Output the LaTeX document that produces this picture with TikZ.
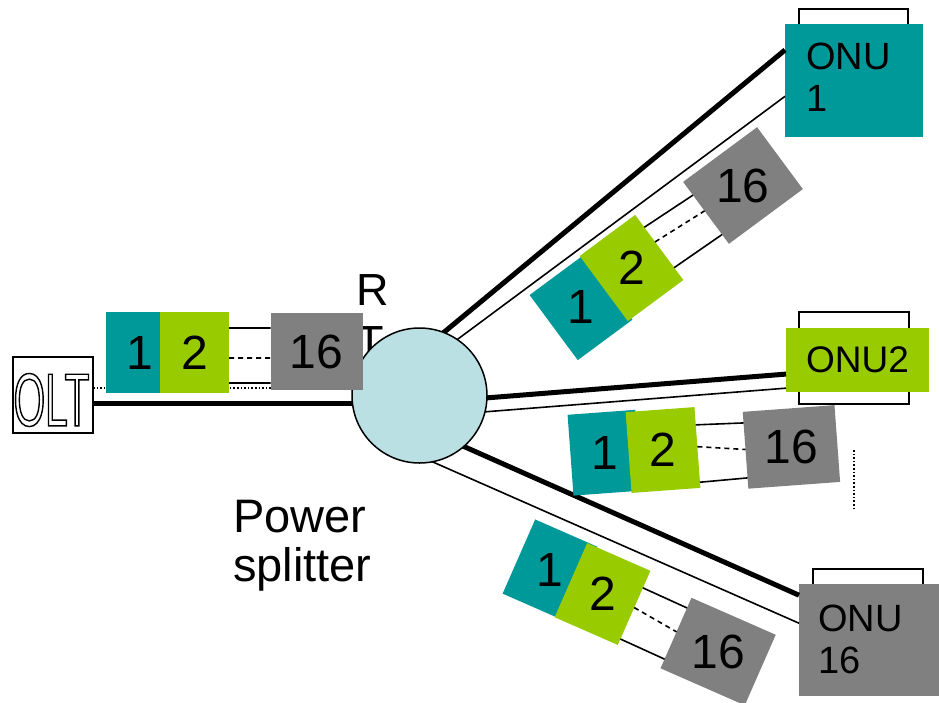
\documentclass[tikz,border=0pt]{standalone}
\usepackage{graphicx}
\usepackage{fontspec}
\setmainfont{Liberation Sans}
\newfontfamily\narrowface[FakeStretch=0.54]{Liberation Sans}
\usetikzlibrary{calc}
\definecolor{tealbox}{HTML}{009999}
\definecolor{limebox}{HTML}{99CC00}
\definecolor{greybox}{HTML}{808080}
\definecolor{splitfill}{HTML}{BBE0E3}
% stroked (hollow) lettering
\newcommand{\hollowtext}[1]{\special{pdf:literal direct 1 Tr 1.4 w}#1\special{pdf:literal direct 0 Tr}}
% a train of packets: #1 prefix, #2 centre of packet 2, #3 angle,
% #4 centre of packet 1, #5 centre of packet 16 (local frame)
\newcommand{\pktgroup}[5]{%
  \begin{scope}[shift={#2}, rotate=#3]
    \node[pktbox, fill=tealbox, minimum width=68pt] (#1one) at #4 {};
    \node[pktbox, fill=limebox] (#1two) at (0,0) {};
    \node[pktbox, fill=greybox, minimum width=92pt, minimum height=77pt] (#1last) at #5 {};
  \end{scope}
  \node[pktnum] at (#1one) {1};
  \node[pktnum] at (#1two) {2};
  \node[pktnum] at (#1last) {16};
}
% links between packet 2 and packet 16 (fractions down the facing sides)
\newcommand{\pktlinks}[7]{%
  \draw[wire] ($(#1two.north east)!#2!(#1two.south east)$) -- ($(#1last.north west)!#3!(#1last.south west)$);
  \draw[wire, dash pattern=on 5pt off 4pt] ($(#1two.north east)!#4!(#1two.south east)$) -- ($(#1last.north west)!#5!(#1last.south west)$);
  \draw[wire] ($(#1two.north east)!#6!(#1two.south east)$) -- ($(#1last.north west)!#7!(#1last.south west)$);
}
\begin{document}
\begin{tikzpicture}[x=1pt, y=-1pt,
  every node/.style={inner sep=0pt, outer sep=0pt},
  pktbox/.style={rectangle, minimum width=69pt, minimum height=81pt, transform shape},
  pktnum/.style={font=\fontsize{48}{48}\selectfont},
  wire/.style={line width=1.6pt},
  fibre/.style={line width=5pt, shorten <=-6pt},
  thinfibre/.style={line width=1.6pt, shorten <=-6pt},
  dots/.style={line width=2pt, dash pattern=on 1.6pt off 2pt},
  onuback/.style={rectangle, draw, fill=white, line width=1.5pt},
  onutext/.style={font=\fontsize{38}{42}\selectfont, align=left, anchor=north west},
  lbl/.style={font=\fontsize{47}{49}\selectfont, align=left, anchor=north west}
]
\useasboundingbox (0,0) rectangle (939,702);
\fill[white] (0,0) rectangle (939,702);

% label beside the splitter (partly hidden by the splitter)
\node[font=\fontsize{45}{52}\selectfont, align=left, anchor=north west] (rt) at (356.5,275) {R\\T};

% OLT
\node[rectangle, draw, fill=white, line width=1.5pt, minimum width=80pt, minimum height=76pt] (olt) at (53,395) {};
\node[font=\narrowface\fontsize{75}{75}\selectfont] (oltname) at (51.5,400) {\hollowtext{OLT}};

% ONU terminals
\node[onuback, minimum width=109pt, minimum height=51pt] (onu1back) at (853.5,34.5) {};
\node[onuback, minimum width=110pt, minimum height=92pt] (onu2back) at (854,358) {};
\node[onuback, minimum width=110pt, minimum height=51pt] (onu16back) at (868,594.5) {};
\node[rectangle, fill=tealbox, minimum width=138pt, minimum height=113pt] (onu1) at (854,80.5) {};
\node[rectangle, fill=limebox, minimum width=143pt, minimum height=64pt, font=\fontsize{37}{37}\selectfont] (onu2) at (857.5,360) {ONU2};
\node[rectangle, fill=greybox, minimum width=141pt, minimum height=112pt] (onu16) at (869.5,640) {};
\node[onutext] (onu1name) at ([xshift=21pt,yshift=-19pt]onu1.north west) {ONU\\1};
\node[onutext] (onu16name) at ([xshift=19pt,yshift=-21pt]onu16.north west) {ONU\\16};

% splitter, placed first so the fibres can reach its rim
\node[circle, minimum size=135pt] (split) at (419.5,395.5) {};

% feeder from the OLT
\draw[dots] ([yshift=7pt]olt.east) -- ([yshift=7pt]olt.east -| split.center);
\draw[line width=5pt] ([yshift=-8.5pt]olt.east) -- ([yshift=-8.5pt]olt.east -| split.center);

% branch fibres
\draw[fibre] (split.69.7) -- ($(onu1.north west)!0.23!(onu1.south west)$);
\draw[thinfibre] (split.56.2) -- ($(onu1.north west)!0.64!(onu1.south west)$);
\draw[fibre] (split.-2.1) -- ($(onu2.north west)!0.72!(onu2.south west)$);
\draw[thinfibre] (split.-14.5) -- ($(onu2.north west)!0.94!(onu2.south west)$);
\draw[fibre] (split.-49.8) -- ($(onu16.north west)!0.10!(onu16.south west)$);
\draw[thinfibre] (split.-79.5) -- ($(onu16.north west)!0.35!(onu16.south west)$);

% splitter disc painted over the fibre ends
\fill[splitfill, draw=black, line width=1.5pt] (split.center) circle[radius=67.5pt];

% packet trains
\pktgroup{ga}{(194.5,352.5)}{0}{(-54.5,0)}{(122,-1)}
\pktlinks{ga}{0.198}{0.195}{0.568}{0.584}{0.877}{0.909}
\pktgroup{gb}{(631.5,268)}{36.5}{(-64,1.6)}{(138.7,0)}
\pktlinks{gb}{0.19}{0.214}{0.414}{0.468}{0.81}{0.85}
\pktgroup{gc}{(663,450)}{4.2}{(-58.6,-1.6)}{(128.3,6.3)}
\pktlinks{gc}{0.22}{0.144}{0.49}{0.49}{0.93}{0.86}
\pktgroup{gd}{(602.5,594)}{-23.7}{(-57.6,-0.7)}{(129,6.2)}
\pktlinks{gd}{0.23}{0.144}{0.496}{0.483}{0.92}{0.87}

% vertical ellipsis between the middle and lower branches
\coordinate (ellipsistop) at (854,450);
\coordinate (ellipsisbottom) at (854,508);
\draw[dots] (ellipsistop) -- (ellipsisbottom);

% caption of the splitter
\node[lbl] (caption) at (233,500) {Power\\splitter};
\end{tikzpicture}
\end{document}
